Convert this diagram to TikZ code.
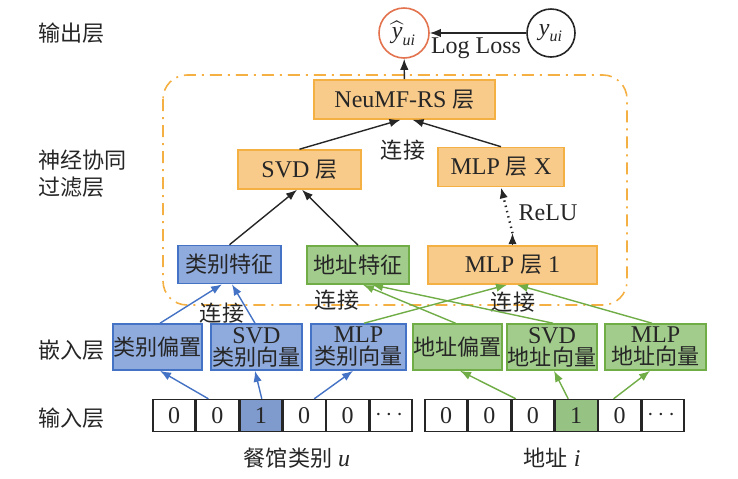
\documentclass[tikz,border=0pt]{standalone}
\usepackage{amsmath}
\usepackage{fontspec}
\setmainfont{Liberation Serif}
\newfontfamily\cjk[Scale=0.92]{Noto Sans CJK SC}
\newcommand{\zh}[1]{{\cjk #1}}
\newcommand{\iv}[1]{\text{\itshape #1}}
\usepackage{tikz}
\usetikzlibrary{positioning}
\usetikzlibrary{arrows.meta}

\definecolor{txt}{HTML}{262626}
\definecolor{ornfill}{HTML}{F8CB8B}
\definecolor{orndraw}{HTML}{F4B042}
\definecolor{blufill}{HTML}{8FAADC}
\definecolor{bludraw}{HTML}{4472C4}
\definecolor{grnfill}{HTML}{A2CC8C}
\definecolor{grndraw}{HTML}{70AD47}
\definecolor{hatred}{HTML}{E2734E}
\definecolor{bluone}{HTML}{7F9ACD}
\definecolor{grnone}{HTML}{96C384}

\tikzset{
    layerbox/.style={draw=orndraw, fill=ornfill, line width=0.8pt, inner sep=0pt, minimum height=19.5pt},
    catbox/.style={draw=bludraw, fill=blufill, line width=0.8pt, inner sep=0pt, minimum height=23pt, align=center},
    locbox/.style={draw=grndraw, fill=grnfill, line width=0.8pt, inner sep=0pt, minimum height=23pt, align=center},
    cell/.style={draw=txt, line width=0.7pt, inner sep=0pt, minimum width=21pt, minimum height=16pt},
    tag/.style={anchor=west},
    bluarrow/.style={->, draw=bludraw, line width=0.7pt},
    grnarrow/.style={->, draw=grndraw, line width=0.7pt},
    blkarrow/.style={->, draw=txt, line width=0.7pt},
}

\begin{document}
\begin{tikzpicture}[x=0.5pt, y=-0.5pt, >={Latex[length=5.5pt,width=4.2pt]},
    every node/.style={font=\fontsize{12}{11}\selectfont, text=txt}]
    \useasboundingbox (0,0) rectangle (738,478);

    %Frame
    \draw[orndraw, line width=0.8pt, dash pattern=on 6pt off 3pt on 1pt off 3pt,
        rounded corners=12pt] (163,75) rectangle (627,305);

    %Layer names
    \node[tag] (lout) at (31,33) {\zh{输出层}};
    \node[tag, align=left, font=\fontsize{12}{13.5}\selectfont] (lncf) at (31,173.5) {\zh{神经协同}\\\zh{过滤层}};
    \node[tag] (lemb) at (31,350) {\zh{嵌入层}};
    \node[tag] (lin) at (31,418) {\zh{输入层}};

    %Output
    \node[circle, draw=hatred, line width=0.8pt, minimum size=25pt, inner sep=0pt] (yhat) at (404,33) {$\widehat{\iv{y}}_{\iv{ui}}$};
    \node[circle, draw=txt, line width=0.8pt, minimum size=24pt, inner sep=0pt] (ytrue) at (551,33) {$\iv{y}_{\iv{ui}}$};
    \node (loss) at (476,48) {Log Loss};

    %NCF layers
    \node[layerbox, minimum width=90.5pt] (neumf) at (404.5,99.5) {NeuMF-RS \zh{层}};
    \node[layerbox, minimum width=61.5pt] (svd) at (299.5,169.5) {SVD \zh{层}};
    \node[layerbox, minimum width=63pt] (mlpx) at (501,167) {MLP \zh{层} X};
    \node[catbox, minimum width=51.5pt, minimum height=19pt] (catfeat) at (229.5,264.5) {\zh{类别特征}};
    \node[locbox, minimum width=51pt, minimum height=19pt] (locfeat) at (358,265) {\zh{地址特征}};
    \node[layerbox, minimum width=84.5pt, minimum height=19pt] (mlp1) at (512.5,265) {MLP \zh{层} 1};
    \node (cat1) at (403,150) {\zh{连接}};
    \node (relu) at (548,213) {ReLU};
    \node (cat2) at (222,313) {\zh{连接}};
    \node (cat3) at (337,300) {\zh{连接}};
    \node (cat4) at (513,302) {\zh{连接}};

    %Embeddings
    \node[catbox, minimum width=44.5pt] (catbias) at (157.5,347) {\zh{类别偏置}};
    \node[catbox, minimum width=45.5pt] (catsvd) at (256.5,347) {SVD\\\zh{类别向量}};
    \node[catbox, minimum width=47.5pt] (catmlp) at (358.5,347) {MLP\\\zh{类别向量}};
    \node[locbox, minimum width=44.5pt] (locbias) at (457.5,347) {\zh{地址偏置}};
    \node[locbox, minimum width=45pt] (locsvd) at (552,347) {SVD\\\zh{地址向量}};
    \node[locbox, minimum width=50.5pt] (locmlp) at (655.5,347) {MLP\\\zh{地址向量}};

    %Inputs
    \node[cell] (c1) at (174,415.5) {0};
    \node[cell, right=0pt of c1] (c2) {0};
    \node[cell, right=0pt of c2, fill=bluone] (c3) {1};
    \node[cell, right=0pt of c3] (c4) {0};
    \node[cell, right=0pt of c4] (c5) {0};
    \node[cell, right=0pt of c5] (c6) {$\cdots$};
    \node[cell] (d1) at (446,415.5) {0};
    \node[cell, right=0pt of d1] (d2) {0};
    \node[cell, right=0pt of d2] (d3) {0};
    \node[cell, right=0pt of d3, fill=grnone] (d4) {1};
    \node[cell, right=0pt of d4] (d5) {0};
    \node[cell, right=0pt of d5] (d6) {$\cdots$};
    \node (lcat) at (297,458) {\zh{餐馆类别} \textit{u}};
    \node (lloc) at (552,458) {\zh{地址} \textit{i}};

    %Lines
    \draw[blkarrow] (ytrue) -- (yhat);
    \draw[blkarrow] (neumf) -- (yhat);
    \draw[blkarrow] (svd.north) -- ([xshift=-2pt]neumf.south);
    \draw[blkarrow] (mlpx.north) -- ([xshift=4pt]neumf.south);
    \draw[blkarrow] (catfeat.north) -- ([xshift=-1.25pt]svd.south);
    \draw[blkarrow] (locfeat.north) -- ([xshift=1.25pt]svd.south);
    \coordinate (relustart) at ([yshift=6pt]mlp1.north);
    \draw[blkarrow] (mlp1.north) -- (relustart);
    \draw[blkarrow, dotted, line width=1.2pt] (relustart) -- (mlpx.south);

    \draw[bluarrow] ([xshift=1.25pt]catbias.north) -- ([xshift=-3.75pt]catfeat.south);
    \draw[bluarrow] ([xshift=-0.75pt]catsvd.north) -- ([xshift=1.25pt]catfeat.south);
    \draw[grnarrow] ([xshift=-1pt]locbias.north) -- ([xshift=2.5pt]locfeat.south);
    \draw[grnarrow] ([xshift=0.5pt]locsvd.north) -- ([xshift=7pt]locfeat.south);
    \draw[grnarrow] ([xshift=2.75pt]catmlp.north) -- ([xshift=-2.75pt]mlp1.south);
    \draw[grnarrow] ([xshift=-1.75pt]locmlp.north) -- ([xshift=2.25pt]mlp1.south);

    \draw[bluarrow] ([xshift=-4.5pt]c2.north) -- ([xshift=1.25pt]catbias.south);
    \draw[bluarrow] ([xshift=0.5pt]c3.north) -- ([xshift=-0.75pt]catsvd.south);
    \draw[bluarrow] ([xshift=5pt]c4.north) -- ([xshift=-2.75pt]catmlp.south);
    \draw[grnarrow] ([xshift=-8.5pt]d3.north) -- ([xshift=1.25pt]locbias.south);
    \draw[grnarrow] ([xshift=-4pt]d4.north) -- ([xshift=1pt]locsvd.south);
    \draw[grnarrow] ([xshift=-3pt]d5.north) -- ([xshift=-2.75pt]locmlp.south);
\end{tikzpicture}
\end{document}
